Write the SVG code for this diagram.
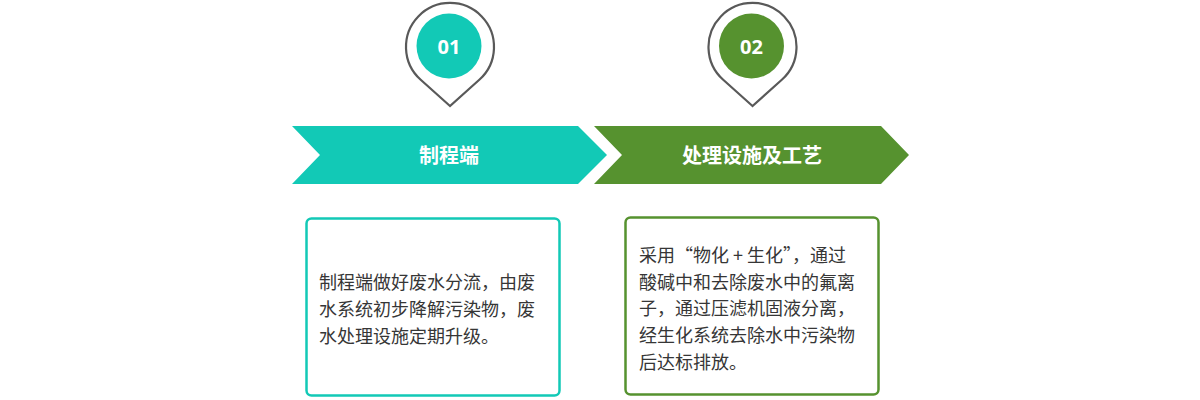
<svg xmlns="http://www.w3.org/2000/svg" width="1200" height="400" viewBox="0 0 1200 400">
<style>
.pin{fill:#ffffff;stroke:#595959;stroke-width:2.2;stroke-linejoin:miter}
.num{font-family:"Open Sans","Liberation Sans",sans-serif;font-weight:700;font-size:20px;fill:#ffffff;text-anchor:middle}
.title{font-family:"Noto Sans CJK SC","Noto Sans",sans-serif;font-weight:700;font-size:20px;fill:#ffffff;text-anchor:middle}
.body{font-family:"Noto Sans CJK SC","Noto Sans",sans-serif;font-size:18px;fill:#363636}
.box{fill:#ffffff;stroke-width:2.5}
</style>
<g id="connectors"></g>
<g id="pin1">
<path class="pin" d="M450,106 L420.7,79.8 A44,44 0 1,1 479.3,79.8 Z"/>
<circle cx="449" cy="46" r="32.5" fill="#12C9B6"/>
<text class="num" x="449" y="54">01</text>
</g>
<g id="pin2">
<path class="pin" d="M752.5,106 L723.2,79.8 A44,44 0 1,1 781.8,79.8 Z"/>
<circle cx="751.5" cy="46" r="32.5" fill="#56922F"/>
<text class="num" x="751.5" y="54">02</text>
</g>
<g id="step1">
<polygon points="292,126 578,126 607,155 578,184 292,184 320,155" fill="#12C9B6"/>
<text class="title" x="449" y="163">制程端</text>
</g>
<g id="step2">
<polygon points="594,126 881,126 909,155 881,184 594,184 622,155" fill="#56922F"/>
<text class="title" x="752" y="163">处理设施及工艺</text>
</g>
<g id="box1">
<rect class="box" x="306.5" y="218.5" width="253" height="177" rx="5" stroke="#12C9B6"/>
<text class="body" x="319" y="289">制程端做好废水分流，由废</text>
<text class="body" x="319" y="316">水系统初步降解污染物，废</text>
<text class="body" x="319" y="343">水处理设施定期升级。</text>
</g>
<g id="box2">
<rect class="box" x="625.5" y="217.5" width="253" height="177" rx="5" stroke="#56922F"/>
<text class="body" x="639" y="262">采用“物化 + 生化”，通过</text>
<text class="body" x="639" y="288.7">酸碱中和去除废水中的氟离</text>
<text class="body" x="639" y="315.4">子，通过压滤机固液分离，</text>
<text class="body" x="639" y="342.1">经生化系统去除水中污染物</text>
<text class="body" x="639" y="368.8">后达标排放。</text>
</g>
</svg>
